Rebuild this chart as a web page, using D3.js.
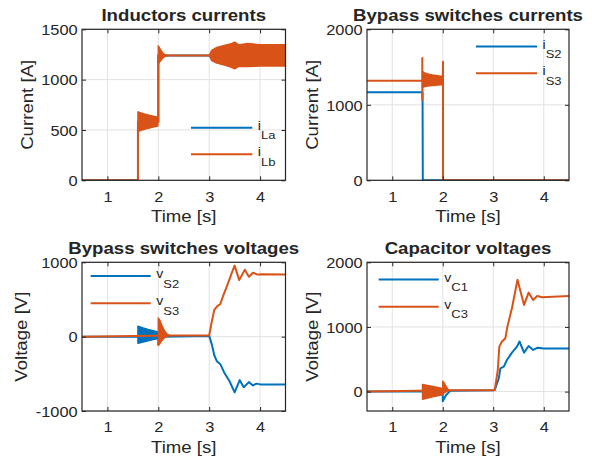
<!DOCTYPE html>
<html><head><meta charset="utf-8">
<script src="https://cdn.jsdelivr.net/npm/d3@7"></script>
<style>
body{margin:0;background:#fff}
text{font-family:"Liberation Sans",Arial,Helvetica,sans-serif;fill:#262626}
</style>
</head><body>
<svg id="c" width="592" height="461"></svg>
<script>
// ---------- data ----------
const timeDomain = [0.5, 4.5];
const timeTicks = [1, 2, 3, 4];

// Panel 1: Inductors currents
const iLaT = [0.5, 1.6, 1.6, 2.0, 2.0, 4.5];
const iLaV = [0, 0, 580, 580, 1240, 1240];
const iLbT = [0.5, 1.6, 1.6, 2.0, 2.0, 4.5];
const iLbV = [0, 0, 580, 580, 1240, 1240];
const iLbBandAT = [1.6, 1.7, 1.8, 1.9, 1.99];
const iLbBandAUp = [680, 662, 648, 636, 626];
const iLbBandALo = [485, 503, 518, 530, 540];
const iLbBandBT = [2.0, 2.04, 2.08, 2.12, 2.17];
const iLbBandBUp = [1335, 1300, 1270, 1250, 1240];
const iLbBandBLo = [1160, 1185, 1210, 1228, 1240];
const iLbBandCT = [3.0, 3.05, 3.15, 3.3, 3.45, 3.5, 3.58, 3.75, 4.0, 4.5];
const iLbBandCUp = [1240, 1290, 1320, 1340, 1360, 1372, 1345, 1358, 1347, 1347];
const iLbBandCLo = [1240, 1190, 1165, 1145, 1120, 1108, 1132, 1130, 1136, 1136];
const p1Ticks = [0, 500, 1000, 1500];

// Panel 2: Bypass switches currents
const iS2T = [0.5, 1.6, 1.605, 4.5];
const iS2V = [1165, 1165, 0, 0];
const iS3T = [0.5, 1.595, 1.595, 1.595, 1.6, 2.0, 2.005, 2.005, 4.5];
const iS3V = [1320, 1320, 1620, 1065, 1320, 1320, 1570, 0, 0];
const iS3BandT = [1.6, 1.63, 1.7, 1.8, 1.9, 1.995];
const iS3BandUp = [1440, 1425, 1408, 1395, 1385, 1375];
const iS3BandLo = [1230, 1240, 1250, 1256, 1261, 1265];
const p2Ticks = [0, 1000, 2000];

// Panel 3: Bypass switches voltages
const vS2T = [0.5, 2.0, 2.0, 2.06, 3.0, 3.05, 3.1, 3.15, 3.22, 3.3, 3.4, 3.5, 3.6, 3.68, 3.78, 3.86, 3.93, 4.0, 4.5];
const vS2V = [0, 0, -110, 0, 10, -100, -250, -330, -370, -490, -600, -750, -585, -680, -612, -656, -632, -642, -642];
const vS3T = [0.5, 2.2, 3.0, 3.05, 3.1, 3.16, 3.22, 3.28, 3.36, 3.44, 3.5, 3.59, 3.7, 3.78, 3.86, 3.95, 4.05, 4.5];
const vS3V = [0, 15, 15, 200, 360, 410, 440, 560, 700, 850, 955, 760, 900, 805, 860, 835, 840, 835];
const vS2BandT = [1.6, 1.7, 1.8, 1.9, 1.995];
const vS2BandUp = [140, 118, 98, 80, 62];
const vS2BandLo = [-90, -72, -55, -40, -25];
const vS3BandT = [2.0, 2.03, 2.07, 2.12, 2.17, 2.22];
const vS3BandUp = [250, 220, 150, 80, 35, 15];
const vS3BandLo = [-115, -95, -50, -15, 5, 15];
const p3Ticks = [-1000, 0, 1000];

// Panel 4: Capacitor voltages
const vC1T = [0.5, 2.0, 2.0, 2.06, 2.15, 3.0, 3.03, 3.11, 3.14, 3.21, 3.27, 3.37, 3.47, 3.52, 3.61, 3.7, 3.79, 3.88, 4.0, 4.5];
const vC1V = [0, 0, -150, -60, 15, 20, 25, 206, 360, 386, 489, 602, 695, 775, 602, 706, 644, 680, 665, 665];
const vC3T = [0.5, 2.15, 3.0, 3.03, 3.09, 3.12, 3.17, 3.24, 3.28, 3.37, 3.48, 3.61, 3.7, 3.79, 3.87, 3.97, 4.5];
const vC3V = [0, 20, 20, 25, 334, 695, 772, 825, 1005, 1289, 1730, 1340, 1531, 1418, 1480, 1460, 1480];
const vC3BandAT = [1.6, 1.7, 1.8, 1.9, 1.99];
const vC3BandAUp = [110, 95, 80, 65, 50];
const vC3BandALo = [-120, -100, -80, -65, -50];
const vC3BandBT = [2.0, 2.03, 2.07, 2.12];
const vC3BandBUp = [160, 130, 70, 20];
const vC3BandBLo = [-30, -20, 0, 20];
const p4Ticks = [0, 1000, 2000];

const titles = ["Inductors currents", "Bypass switches currents", "Bypass switches voltages", "Capacitor voltages"];
const yLabels = ["Current [A]", "Current [A]", "Voltage [V]", "Voltage [V]"];
const xLabel = "Time [s]";

// ---------- drawing ----------
const BLUE = "#0072BD", ORANGE = "#D95319";
const SX = 1.13;
const fmt = d => String(d);
const zip = (t, v) => t.map((d, i) => [d, v[i]]);
const band = (t, up, lo) => t.map((d, i) => ({t: d, up: up[i], lo: lo[i]}));

const panels = [
  {l: 82, r: 285.5, t: 29.3, b: 180.3, yDomain: [0, 1500], yTicks: p1Ticks, ylx: 32.5,
   leg: {x0: 191, x1: 252.3, ys: [127.7, 154.3]},
   series: [
     {main: "i", sub: "La", color: BLUE, pts: zip(iLaT, iLaV), bands: []},
     {main: "i", sub: "Lb", color: ORANGE, pts: zip(iLbT, iLbV),
      bands: [band(iLbBandAT, iLbBandAUp, iLbBandALo), band(iLbBandBT, iLbBandBUp, iLbBandBLo), band(iLbBandCT, iLbBandCUp, iLbBandCLo)]}
   ]},
  {l: 367, r: 569, t: 29.3, b: 180.3, yDomain: [0, 2000], yTicks: p2Ticks, ylx: 317.7,
   leg: {x0: 476, x1: 537, ys: [46.5, 73.3]},
   series: [
     {main: "i", sub: "S2", color: BLUE, pts: zip(iS2T, iS2V), bands: []},
     {main: "i", sub: "S3", color: ORANGE, pts: zip(iS3T, iS3V), bands: [band(iS3BandT, iS3BandUp, iS3BandLo)]}
   ]},
  {l: 82, r: 285.5, t: 262.3, b: 411, yDomain: [-1000, 1000], yTicks: p3Ticks, ylx: 26.7,
   leg: {x0: 90.7, x1: 150.7, ys: [276, 303.3]},
   series: [
     {main: "v", sub: "S2", color: BLUE, pts: zip(vS2T, vS2V), bands: [band(vS2BandT, vS2BandUp, vS2BandLo)]},
     {main: "v", sub: "S3", color: ORANGE, pts: zip(vS3T, vS3V), bands: [band(vS3BandT, vS3BandUp, vS3BandLo)]}
   ]},
  {l: 367, r: 569, t: 262.3, b: 411, yDomain: [-300, 2000], yTicks: p4Ticks, ylx: 318.3,
   leg: {x0: 378.7, x1: 438.7, ys: [279.5, 306.7]},
   series: [
     {main: "v", sub: "C1", color: BLUE, pts: zip(vC1T, vC1V), bands: []},
     {main: "v", sub: "C3", color: ORANGE, pts: zip(vC3T, vC3V),
      bands: [band(vC3BandAT, vC3BandAUp, vC3BandALo), band(vC3BandBT, vC3BandBUp, vC3BandBLo)]}
   ]}
];

const svg = d3.select("#c");
const defs = svg.append("defs");

panels.forEach((p, pi) => {
  const x = d3.scaleLinear().domain(timeDomain).range([p.l, p.r]);
  const y = d3.scaleLinear().domain(p.yDomain).range([p.b, p.t]);
  const g = svg.append("g");

  defs.append("clipPath").attr("id", "clip" + pi)
    .append("rect").attr("x", p.l).attr("y", p.t).attr("width", p.r - p.l).attr("height", p.b - p.t);

  // grid
  g.append("g").selectAll("line").data(timeTicks).join("line")
    .attr("x1", d => x(d)).attr("x2", d => x(d)).attr("y1", p.t).attr("y2", p.b)
    .attr("stroke", "#e2e2e2").attr("stroke-width", 1);
  g.append("g").selectAll("line").data(p.yTicks).join("line")
    .attr("y1", d => y(d)).attr("y2", d => y(d)).attr("x1", p.l).attr("x2", p.r)
    .attr("stroke", "#e2e2e2").attr("stroke-width", 1);

  // data
  const dg = g.append("g").attr("clip-path", `url(#clip${pi})`);
  const line = d3.line().x(d => x(d[0])).y(d => y(d[1]));
  const area = d3.area().x(d => x(d.t)).y0(d => y(d.lo)).y1(d => y(d.up));
  p.series.forEach(s => {
    s.bands.forEach(b => {
      dg.append("path").datum(b).attr("d", area)
        .attr("fill", s.color).attr("stroke", s.color).attr("stroke-width", 1.5).attr("stroke-linejoin", "round");
    });
    dg.append("path").datum(s.pts).attr("d", line)
      .attr("fill", "none").attr("stroke", s.color).attr("stroke-width", 2).attr("stroke-linejoin", "round");
  });

  // axes
  const xa = g.append("g").attr("transform", `translate(0,${p.b})`)
    .call(d3.axisBottom(x).tickValues(timeTicks).tickFormat(fmt).tickSize(-4).tickPadding(11));
  g.append("g").attr("transform", `translate(0,${p.t})`)
    .call(d3.axisTop(x).tickValues(timeTicks).tickSize(-4).tickFormat(""));
  const ya = g.append("g").attr("transform", `translate(${p.l},0)`)
    .call(d3.axisLeft(y).tickValues(p.yTicks).tickFormat(fmt).tickSize(-4).tickPadding(3.8));
  g.append("g").attr("transform", `translate(${p.r},0)`)
    .call(d3.axisRight(y).tickValues(p.yTicks).tickSize(-4).tickFormat(""));
  g.selectAll(".domain").remove();
  g.selectAll(".tick line").attr("stroke", "#262626").attr("stroke-width", 1);
  [xa, ya].forEach(a => {
    a.attr("font-family", null).attr("font-size", null);
    a.selectAll("text").attr("font-size", 14.5).attr("fill", "#262626")
      .attr("transform", `scale(${SX},1)`);
  });
  ya.selectAll("text").attr("dy", "0.36em");

  // box
  g.append("rect").attr("x", p.l).attr("y", p.t).attr("width", p.r - p.l).attr("height", p.b - p.t)
    .attr("fill", "none").attr("stroke", "#262626").attr("stroke-width", 1.2);

  // title
  g.append("text").attr("text-anchor", "middle").attr("font-weight", "bold").attr("font-size", 16.5)
    .attr("fill", "#000")
    .attr("transform", `translate(${(p.l + p.r) / 2},${p.t - 8.5}) scale(${SX},1)`)
    .text(titles[pi]);
  // x label
  g.append("text").attr("text-anchor", "middle").attr("font-size", 16.5)
    .attr("transform", `translate(${(p.l + p.r) / 2},${p.b + 41.5}) scale(${SX},1)`)
    .text(xLabel);
  // y label
  g.append("text").attr("text-anchor", "middle").attr("font-size", 16.5)
    .attr("transform", `translate(${p.ylx},${(p.t + p.b) / 2}) rotate(-90) scale(${SX},1)`)
    .text(yLabels[pi]);

  // legend
  p.series.forEach((s, si) => {
    const ly = p.leg.ys[si];
    g.append("line").attr("x1", p.leg.x0).attr("x2", p.leg.x1).attr("y1", ly).attr("y2", ly)
      .attr("stroke", s.color).attr("stroke-width", 2);
    const t = g.append("text").attr("font-size", 12.5)
      .attr("transform", `translate(${p.leg.x1 + 5.5},${ly + 2}) scale(${SX},1)`);
    t.append("tspan").text(s.main);
    t.append("tspan").attr("font-size", 11.5).attr("dy", 9.5).text(s.sub);
  });
});
</script>
</body></html>
